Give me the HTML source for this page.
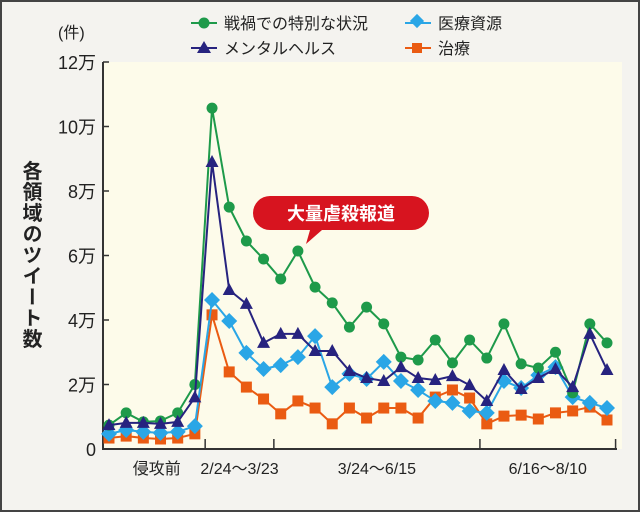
<!DOCTYPE html>
<html><head><meta charset="utf-8"><style>
body{margin:0;background:#fff}
svg{display:block;font-family:"Liberation Sans","Noto Sans CJK JP",sans-serif}
</style></head><body>
<svg width="640" height="512" viewBox="0 0 640 512">
<rect x="0" y="0" width="640" height="512" fill="#f4f3ef"/>
<rect x="1" y="1" width="638" height="510" fill="none" stroke="#444" stroke-width="2"/>
<rect x="103" y="62" width="519" height="387" fill="#fdfbea"/>
<g id="axes"></g>
<g id="marks"></g>
<text x="58" y="38" font-size="16" fill="#222">(件)</text>
<text x="30" y="255" font-size="20" font-weight="bold" fill="#222" writing-mode="tb" letter-spacing="1" text-anchor="middle">各領域のツイート数</text>
<g>
<g><line x1="191" y1="23" x2="217" y2="23" stroke="#1e9a4a" stroke-width="2"/><circle cx="204" cy="23" r="5.5" fill="#1e9a4a"/><text x="224" y="29" font-size="16" fill="#222">戦禍での特別な状況</text></g>
<g><line x1="405" y1="23" x2="431" y2="23" stroke="#2aa6e6" stroke-width="2"/><rect x="412" y="16" width="10" height="10" fill="#2aa6e6" transform="rotate(45 417 21)"/><text x="438" y="29" font-size="16" fill="#222">医療資源</text></g>
<g><line x1="191" y1="48" x2="217" y2="48" stroke="#27237f" stroke-width="2"/><polygon points="204,41 211,53 197,53" fill="#27237f"/><text x="224" y="54" font-size="16" fill="#222">メンタルヘルス</text></g>
<g><line x1="405" y1="48" x2="431" y2="48" stroke="#ea5b12" stroke-width="2"/><rect x="412" y="43" width="10" height="10" fill="#ea5b12"/><text x="438" y="54" font-size="16" fill="#222">治療</text></g>
</g>
<g>
<path d="M270,196 H412 A14,14 0 0 1 412,230 H322 L306,244 L310,230 H270 A14,14 0 0 1 270,196 Z" fill="#d7141f"/>
<text x="341" y="220" font-size="18" font-weight="bold" fill="#fff" text-anchor="middle">大量虐殺報道</text>
</g>
<script>
const war=[0.74,1.12,0.84,0.87,1.12,2.0,10.57,7.5,6.45,5.89,5.27,6.14,5.02,4.53,3.78,4.4,3.88,2.85,2.76,3.38,2.67,3.38,2.82,3.88,2.64,2.51,3.0,1.74,3.88,3.29];
const mental=[0.74,0.81,0.81,0.78,0.84,1.6,8.9,4.93,4.5,3.29,3.57,3.57,3.04,3.04,2.42,2.2,2.11,2.54,2.2,2.14,2.26,1.98,1.49,2.45,1.86,2.2,2.48,1.92,3.57,2.45];
const medical=[0.47,0.59,0.53,0.5,0.53,0.71,4.62,3.97,2.98,2.48,2.6,2.85,3.5,1.92,2.33,2.17,2.7,2.11,1.83,1.49,1.43,1.18,1.12,2.11,1.89,2.29,2.54,1.61,1.43,1.27];
const treatment=[0.34,0.4,0.34,0.31,0.34,0.47,4.16,2.39,1.92,1.55,1.09,1.49,1.27,0.78,1.27,0.96,1.27,1.27,0.96,1.61,1.83,1.58,0.78,1.02,1.05,0.93,1.12,1.18,1.3,0.9];
const yTicks=[0,2,4,6,8,10,12];
const yTickLabels=["0","2万","4万","6万","8万","10万","12万"];
const periodLabels=["侵攻前","2/24〜3/23","3/24〜6/15","6/16〜8/10"];
const periodStarts=[-0.5,5.6,9.6,21.6];
const periodEnds=[5.6,9.6,21.6,29.5];
const NS="http://www.w3.org/2000/svg";
const x=i=>109+i*(607-109)/29;
const y=v=>449-v*(449-62)/12;
function mk(t,a,p){const e=document.createElementNS(NS,t);for(const k in a)e.setAttribute(k,a[k]);p.appendChild(e);return e;}
const ax=document.getElementById('axes'),mg=document.getElementById('marks');
const yl=mk('line',{x1:103,y1:62,x2:103,y2:450,stroke:'#333','stroke-width':2},ax);


const xl=mk('line',{x1:102,y1:449,x2:617,y2:449,stroke:'#333','stroke-width':2},ax);


yTicks.forEach((t,i)=>{
 const tk=mk('line',{x1:103,y1:y(t),x2:109,y2:y(t),stroke:'#333','stroke-width':1.5},ax);
 
 
 const tx=mk('text',{x:96,y:y(t)+7,'font-size':18,'text-anchor':'end',fill:'#222'},ax);
 tx.textContent=yTickLabels[i];
 
 
});
periodLabels.forEach((l,i)=>{
 const xe=x(periodEnds[i]);
 const tk=mk('line',{x1:xe,y1:449,x2:xe,y2:439,stroke:'#333','stroke-width':1.5},ax);
 
 
 const tx=mk('text',{x:(x(periodStarts[i])+xe)/2+ (i==0?4:0),y:474,'font-size':16,'text-anchor':'middle',fill:'#222'},ax);
 tx.textContent=l;
 
 
});
function series(d,col,shape,name){
 const g=mk('g',{},mg);
 
 
 mk('polyline',{points:d.map((v,i)=>x(i)+','+y(v)).join(' '),fill:'none',stroke:col,'stroke-width':2},g);
 d.forEach((v,i)=>{
  const cx=x(i),cy=y(v);let e;
  if(shape=='c')e=mk('circle',{cx,cy,r:5.5,fill:col},g);
  else if(shape=='t')e=mk('polygon',{points:`${cx},${cy-7} ${cx+6.5},${cy+5} ${cx-6.5},${cy+5}`,fill:col},g);
  else if(shape=='d')e=mk('polygon',{points:`${cx},${cy-8} ${cx+8},${cy} ${cx},${cy+8} ${cx-8},${cy}`,fill:col},g);
  else e=mk('rect',{x:cx-5.5,y:cy-5.5,width:11,height:11,fill:col},g);
  
  
 });
}
series(treatment,'#ea5b12','s','treatment-series');
series(medical,'#2aa6e6','d','medical-series');
series(war,'#1e9a4a','c','war-series');
series(mental,'#27237f','t','mental-series');
</script>
</svg>
</body></html>
